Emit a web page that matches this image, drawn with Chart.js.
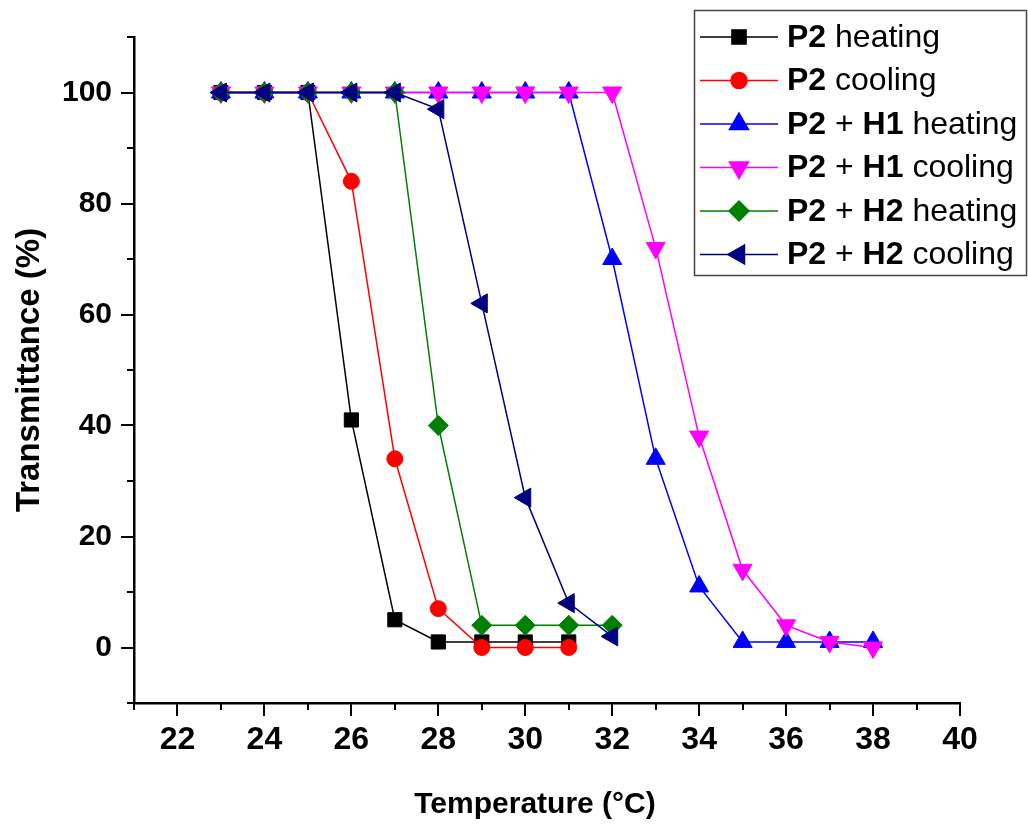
<!DOCTYPE html>
<html>
<head>
<meta charset="utf-8">
<title>Transmittance vs temperature</title>
<script src="https://cdn.jsdelivr.net/npm/chart.js@4"></script>
<style>
  html, body { margin: 0; padding: 0; background: #fff; }
  #wrap { width: 1028px; height: 830px; }
</style>
</head>
<body>
<div id="wrap"><canvas id="chart" width="1028" height="830"></canvas></div>
<script>
// values
const seriesLabels = ['P2 heating', 'P2 cooling', 'P2 + H1 heating', 'P2 + H1 cooling', 'P2 + H2 heating', 'P2 + H2 cooling'];

const p2HeatT = [23, 24, 25, 26, 27, 28, 29, 30, 31];
const p2HeatY = [100, 100, 100, 41, 5, 1, 1, 1, 1];

const p2CoolT = [23, 24, 25, 26, 27, 28, 29, 30, 31];
const p2CoolY = [100, 100, 100, 84, 34, 7, 0, 0, 0];

const h1HeatT = [23, 24, 25, 26, 27, 28, 29, 30, 31, 32, 33, 34, 35, 36, 37, 38];
const h1HeatY = [100, 100, 100, 100, 100, 100, 100, 100, 100, 70, 34, 11, 1, 1, 1, 1];

const h1CoolT = [23, 24, 25, 26, 27, 28, 29, 30, 31, 32, 33, 34, 35, 36, 37, 38];
const h1CoolY = [100, 100, 100, 100, 100, 100, 100, 100, 100, 100, 72, 38, 14, 4, 1, 0];

const h2HeatT = [23, 24, 25, 26, 27, 28, 29, 30, 31, 32];
const h2HeatY = [100, 100, 100, 100, 100, 40, 4, 4, 4, 4];

const h2CoolT = [23, 24, 25, 26, 27, 28, 29, 30, 31, 32];
const h2CoolY = [100, 100, 100, 100, 100, 97, 62, 27, 8, 2];

const xTickLabels = [22, 24, 26, 28, 30, 32, 34, 36, 38, 40];
const yTickLabels = [0, 20, 40, 60, 80, 100];

const FONT = '"Liberation Sans", Arial, sans-serif';

const styles = [
  { color: '#000000', pointStyle: 'rect', radius: 10, rotation: 0 },
  { color: '#ff0000', pointStyle: 'circle', radius: 8, rotation: 0 },
  { color: '#0000ff', pointStyle: 'triangle', radius: 11, rotation: 0 },
  { color: '#ff00ff', pointStyle: 'triangle', radius: 11, rotation: 180 },
  { color: '#008000', pointStyle: 'rectRot', radius: 10, rotation: 0 },
  { color: '#000080', pointStyle: 'triangle', radius: 11, rotation: 270 }
];

const pairs = [[p2HeatT, p2HeatY], [p2CoolT, p2CoolY], [h1HeatT, h1HeatY], [h1CoolT, h1CoolY], [h2HeatT, h2HeatY], [h2CoolT, h2CoolY]];

const datasets = pairs.map(([xs, ys], i) => ({
  label: seriesLabels[i],
  data: xs.map((x, j) => ({ x: x, y: ys[j] })),
  borderColor: styles[i].color,
  backgroundColor: styles[i].color,
  borderWidth: 1.5,
  pointStyle: styles[i].pointStyle,
  pointRadius: styles[i].radius,
  pointRotation: styles[i].rotation,
  pointBorderWidth: 1,
  tension: 0,
  clip: false,
  order: 6 - i
}));

// outward tick marks (major + minor) and the x-axis title
const tickMarks = {
  id: 'tickMarks',
  afterDraw(chart) {
    const ctx = chart.ctx;
    const xs = chart.scales.x, ys = chart.scales.y;
    const ax = chart.chartArea.left, ay = chart.chartArea.bottom;
    ctx.save();
    ctx.strokeStyle = '#000';
    ctx.lineWidth = 2;
    ctx.beginPath();
    for (let v = 21; v <= 40; v++) {
      const px = Math.round(xs.getPixelForValue(v));
      const len = v % 2 === 0 ? 13 : 7;
      ctx.moveTo(px, ay);
      ctx.lineTo(px, ay + len);
    }
    for (let v = -10; v <= 110; v += 10) {
      const py = Math.round(ys.getPixelForValue(v));
      const len = v % 20 === 0 ? 13 : 7;
      ctx.moveTo(ax, py);
      ctx.lineTo(ax - len, py);
    }
    ctx.stroke();
    ctx.fillStyle = '#000';
    ctx.font = 'bold 30px ' + FONT;
    ctx.textAlign = 'center';
    ctx.textBaseline = 'middle';
    ctx.fillText('Temperature (°C)', 535, 805);
    ctx.restore();
  }
};

// legend box with bold sample names
const boxLegend = {
  id: 'boxLegend',
  afterDraw(chart) {
    const ctx = chart.ctx;
    ctx.save();
    ctx.strokeStyle = '#444';
    ctx.lineWidth = 1.5;
    ctx.strokeRect(694.5, 10.5, 332, 265);
    ctx.textBaseline = 'middle';
    seriesLabels.forEach((lab, i) => {
      const y = 37 + i * 43.5;
      const st = styles[i];
      ctx.strokeStyle = st.color;
      ctx.fillStyle = st.color;
      ctx.lineWidth = 1.5;
      ctx.beginPath();
      ctx.moveTo(700, y);
      ctx.lineTo(778, y);
      ctx.stroke();
      Chart.helpers.drawPoint(ctx, { pointStyle: st.pointStyle, radius: st.radius, rotation: st.rotation, borderWidth: 1 }, 739, y);
      let x = 787;
      ctx.fillStyle = '#000';
      lab.split(' ').forEach((w, k) => {
        const bold = /^(P2|H1|H2)$/.test(w);
        if (k > 0) {
          ctx.font = '32px ' + FONT;
          x += ctx.measureText(' ').width;
        }
        ctx.font = (bold ? 'bold ' : '') + '32px ' + FONT;
        ctx.fillText(w, x, y + 1);
        x += ctx.measureText(w).width;
      });
    });
    ctx.restore();
  }
};

new Chart(document.getElementById('chart'), {
  type: 'line',
  data: { datasets: datasets },
  options: {
    responsive: false,
    animation: false,
    devicePixelRatio: 1,
    layout: { padding: { top: 37, right: 68, left: 0, bottom: 0 } },
    plugins: { legend: { display: false }, tooltip: { enabled: false } },
    scales: {
      x: {
        type: 'linear',
        min: 21,
        max: 40,
        afterBuildTicks: s => { s.ticks = xTickLabels.map(v => ({ value: v })); },
        afterFit: s => { s.height = 127; },
        grid: { display: false, drawTicks: false },
        border: { display: true, color: '#000', width: 2.5 },
        ticks: { padding: 18, color: '#000', font: { family: FONT, size: 32, weight: 'bold' }, maxRotation: 0, autoSkip: false },
        title: { display: false }
      },
      y: {
        type: 'linear',
        min: -10,
        max: 110,
        afterBuildTicks: s => { s.ticks = yTickLabels.map(v => ({ value: v })); },
        afterFit: s => { s.width = 134; s.paddingTop = 0; s.paddingBottom = 0; },
        grid: { display: false, drawTicks: false },
        border: { display: true, color: '#000', width: 2.5 },
        ticks: { padding: 22, color: '#000', font: { family: FONT, size: 30, weight: 'bold' } },
        title: { display: true, text: 'Transmittance (%)', color: '#000', font: { family: FONT, size: 33, weight: 'bold' }, padding: { top: 10, bottom: 0 } }
      }
    }
  },
  plugins: [tickMarks, boxLegend]
});
</script>
</body>
</html>
